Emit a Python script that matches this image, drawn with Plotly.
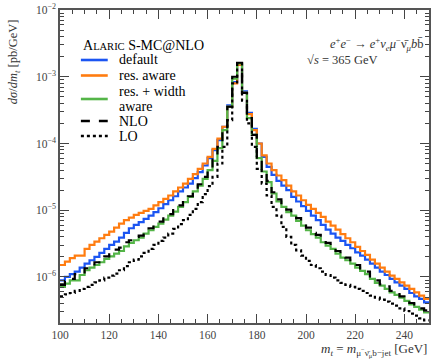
import plotly.graph_objects as go

# bin edges (GeV), 2 GeV bins from 100 to 250
bin_edges = list(range(100, 251, 2))

default = [8.91e-7, 1.00e-6, 1.10e-6, 1.20e-6, 1.38e-6, 1.58e-6, 1.78e-6, 2.00e-6, 2.29e-6, 2.63e-6,
           3.02e-6, 3.39e-6, 3.89e-6, 4.57e-6, 5.37e-6, 6.03e-6, 6.61e-6, 7.41e-6, 8.32e-6, 9.33e-6,
           1.07e-5, 1.23e-5, 1.41e-5, 1.62e-5, 1.91e-5, 2.19e-5, 2.51e-5, 3.02e-5, 3.72e-5, 4.68e-5,
           6.03e-5, 7.94e-5, 1.12e-4, 1.78e-4, 3.72e-4, 8.32e-4, 1.51e-3, 6.03e-4, 2.88e-4, 1.66e-4,
           1.00e-4, 6.31e-5, 4.47e-5, 3.39e-5, 2.75e-5, 2.34e-5, 2.00e-5, 1.58e-5, 1.35e-5, 1.15e-5,
           9.77e-6, 8.32e-6, 7.08e-6, 6.03e-6, 5.13e-6, 4.47e-6, 3.89e-6, 3.47e-6, 3.02e-6, 2.69e-6,
           2.34e-6, 2.09e-6, 1.82e-6, 1.58e-6, 1.38e-6, 1.20e-6, 1.07e-6, 9.33e-7, 8.32e-7, 7.41e-7,
           6.61e-7, 5.75e-7, 5.13e-7, 4.68e-7, 4.17e-7]

res_aware = [1.51e-6, 1.70e-6, 1.91e-6, 2.09e-6, 2.09e-6, 2.63e-6, 3.02e-6, 3.39e-6, 3.80e-6, 4.27e-6,
             4.79e-6, 5.50e-6, 6.31e-6, 7.08e-6, 7.76e-6, 8.51e-6, 9.12e-6, 9.77e-6, 1.05e-5, 1.18e-5,
             1.32e-5, 1.48e-5, 1.66e-5, 1.91e-5, 2.19e-5, 2.51e-5, 2.95e-5, 3.47e-5, 4.17e-5, 5.01e-5,
             6.31e-5, 8.32e-5, 1.18e-4, 1.78e-4, 3.55e-4, 7.94e-4, 1.51e-3, 5.75e-4, 2.75e-4, 1.58e-4,
             1.00e-4, 6.61e-5, 5.01e-5, 3.98e-5, 3.31e-5, 2.82e-5, 2.34e-5, 1.91e-5, 1.66e-5, 1.41e-5,
             1.20e-5, 1.05e-5, 9.12e-6, 7.94e-6, 6.76e-6, 5.89e-6, 5.13e-6, 4.37e-6, 3.80e-6, 3.31e-6,
             2.82e-6, 2.45e-6, 2.14e-6, 1.82e-6, 1.58e-6, 1.38e-6, 1.20e-6, 1.05e-6, 9.33e-7, 8.32e-7,
             7.41e-7, 6.61e-7, 5.89e-7, 5.25e-7, 4.68e-7]

res_width_aware = [7.08e-7, 7.94e-7, 8.91e-7, 8.91e-7, 1.07e-6, 1.26e-6, 1.38e-6, 1.51e-6, 1.66e-6, 1.86e-6,
                   2.04e-6, 2.24e-6, 2.45e-6, 2.88e-6, 3.24e-6, 3.55e-6, 3.89e-6, 4.47e-6, 5.01e-6, 5.62e-6,
                   6.31e-6, 7.24e-6, 8.32e-6, 9.55e-6, 1.12e-5, 1.32e-5, 1.58e-5, 1.91e-5, 2.34e-5, 2.95e-5,
                   3.98e-5, 5.50e-5, 8.51e-5, 1.58e-4, 3.55e-4, 9.33e-4, 1.58e-3, 5.75e-4, 2.40e-4, 1.35e-4,
                   6.03e-5, 3.80e-5, 2.63e-5, 1.78e-5, 1.35e-5, 1.12e-5, 9.33e-6, 8.32e-6, 6.92e-6, 5.89e-6,
                   5.01e-6, 4.37e-6, 3.89e-6, 3.31e-6, 2.95e-6, 2.63e-6, 2.24e-6, 1.95e-6, 1.78e-6, 1.58e-6,
                   1.38e-6, 1.23e-6, 1.10e-6, 9.33e-7, 8.13e-7, 7.41e-7, 6.61e-7, 5.89e-7, 5.37e-7, 4.90e-7,
                   4.37e-7, 3.89e-7, 3.55e-7, 3.24e-7, 2.95e-7]

nlo = [7.59e-7, 8.71e-7, 9.33e-7, 1.10e-6, 1.17e-6, 1.35e-6, 1.45e-6, 1.66e-6, 1.78e-6, 2.04e-6,
       2.19e-6, 2.57e-6, 2.75e-6, 3.31e-6, 3.55e-6, 3.98e-6, 4.17e-6, 4.90e-6, 5.37e-6, 6.17e-6,
       6.76e-6, 7.94e-6, 8.71e-6, 1.05e-5, 1.18e-5, 1.41e-5, 1.62e-5, 2.00e-5, 2.45e-5, 3.16e-5,
       4.17e-5, 5.75e-5, 8.91e-5, 1.58e-4, 3.55e-4, 1.00e-3, 1.62e-3, 5.75e-4, 2.40e-4, 1.35e-4,
       6.31e-5, 3.98e-5, 2.75e-5, 1.86e-5, 1.45e-5, 1.18e-5, 1.02e-5, 8.71e-6, 7.59e-6, 6.17e-6,
       5.50e-6, 4.57e-6, 4.27e-6, 3.47e-6, 3.24e-6, 2.75e-6, 2.45e-6, 2.04e-6, 1.95e-6, 1.66e-6,
       1.51e-6, 1.29e-6, 1.20e-6, 9.77e-7, 8.91e-7, 7.76e-7, 7.24e-7, 6.17e-7, 5.89e-7, 5.13e-7,
       4.79e-7, 4.07e-7, 3.89e-7, 3.39e-7, 3.16e-7]

lo = [5.13e-7, 5.50e-7, 5.75e-7, 6.17e-7, 6.61e-7, 7.08e-7, 7.59e-7, 8.32e-7, 8.91e-7, 9.77e-7,
      1.05e-6, 1.12e-6, 1.26e-6, 1.45e-6, 1.66e-6, 1.82e-6, 2.04e-6, 2.29e-6, 2.63e-6, 3.02e-6,
      3.47e-6, 3.89e-6, 4.47e-6, 5.25e-6, 6.17e-6, 7.08e-6, 8.51e-6, 1.05e-5, 1.32e-5, 1.74e-5,
      2.29e-5, 3.16e-5, 5.01e-5, 8.91e-5, 2.24e-4, 7.94e-4, 1.58e-3, 4.37e-4, 2.00e-4, 8.91e-5,
      4.17e-5, 2.51e-5, 1.66e-5, 1.12e-5, 8.32e-6, 5.62e-6, 3.98e-6, 3.02e-6, 2.51e-6, 2.09e-6,
      1.74e-6, 1.51e-6, 1.35e-6, 1.20e-6, 1.07e-6, 9.77e-7, 8.91e-7, 8.13e-7, 7.59e-7, 7.08e-7,
      6.61e-7, 6.17e-7, 5.75e-7, 5.25e-7, 4.90e-7, 4.57e-7, 4.27e-7, 3.98e-7, 3.72e-7, 3.39e-7,
      3.09e-7, 2.82e-7, 2.63e-7, 2.40e-7, 2.24e-7]

x_ticks = [100, 120, 140, 160, 180, 200, 220, 240]
y_ticks = [1e-6, 1e-5, 1e-4, 1e-3, 1e-2]
y_ticktext = ["10<sup>−6</sup>", "10<sup>−5</sup>", "10<sup>−4</sup>", "10<sup>−3</sup>", "10<sup>−2</sup>"]

legend_title = "A<span style='font-size:10.5px'>LARIC</span> S-MC@NLO"
FONT = "Liberation Serif"

series = [
    ("default", default, "#1b55f2", "solid"),
    ("res. aware", res_aware, "#ff7c10", "solid"),
    ("res. + width<br>aware", res_width_aware, "#54b548", "solid"),
    ("NLO", nlo, "#000000", "dash"),
    ("LO", lo, "#000000", "dot"),
]

fig = go.Figure()
for name, vals, col, dash in series:
    fig.add_trace(go.Scatter(
        x=bin_edges, y=vals + [vals[-1]], mode="lines", name=name,
        line=dict(color=col, width=2.2, dash=dash, shape="hv"),
        showlegend=False,
    ))

minor_y = [m * 10.0 ** e for e in range(-7, -2) for m in range(2, 10)]
minor_x = [v for v in range(100, 251, 5) if v % 20 != 0]

fig.update_layout(
    width=432, height=361,
    margin=dict(l=60, r=1, t=10, b=38),
    paper_bgcolor="white", plot_bgcolor="white",
    font=dict(family=FONT, size=12, color="#333"),
    showlegend=False,
    xaxis=dict(
        type="linear", range=[100, 250],
        tickmode="array", tickvals=x_ticks, ticktext=[str(v) for v in x_ticks],
        ticks="inside", ticklen=9, tickwidth=1, tickcolor="#444",
        showline=True, linecolor="#555", linewidth=1.5, mirror="ticks",
        showgrid=False, zeroline=False,
        tickfont=dict(family=FONT, size=11.5, color="#444"),
        minor=dict(tickmode="array", tickvals=minor_x, ticks="inside", ticklen=4, tickcolor="#444", showgrid=False),
    ),
    yaxis=dict(
        type="log", range=[-6.69, -2],
        tickmode="array", tickvals=y_ticks, ticktext=y_ticktext,
        ticks="inside", ticklen=9, tickwidth=1, tickcolor="#444",
        showline=True, linecolor="#555", linewidth=1.5, mirror="ticks",
        showgrid=False, zeroline=False,
        tickfont=dict(family=FONT, size=11.5, color="#444"),
        minor=dict(tickmode="array", tickvals=minor_y, ticks="inside", ticklen=4, tickcolor="#444", showgrid=False),
    ),
)

# manual legend (pixel positions converted to paper coords of the plot area)
def px_to_paper(px, py):
    return (px - 60) / 371.0, (323 - py) / 313.0

LEG_FONT = dict(family=FONT, size=14, color="#000")
tx, ty = px_to_paper(81, 45)
fig.add_annotation(text=legend_title, xref="paper", yref="paper", x=tx, y=ty,
                   xanchor="left", yanchor="middle", showarrow=False, font=LEG_FONT)

legend_rows = [
    (series[0], 60, [(60, "default")]),
    (series[1], 75.5, [(75.5, "res. aware")]),
    (series[2], 99, [(91, "res. + width"), (106, "aware")]),
    (series[3], 121, [(121, "NLO")]),
    (series[4], 136, [(136, "LO")]),
]
for (name, vals, col, dash), line_y, texts in legend_rows:
    x0, y0 = px_to_paper(81, line_y)
    x1, _ = px_to_paper(108, line_y)
    fig.add_shape(type="line", xref="paper", yref="paper", x0=x0, x1=x1, y0=y0, y1=y0,
                  line=dict(color=col, width=2.6, dash=dash))
    for ty_px, t in texts:
        lx, ly = px_to_paper(117, ty_px)
        fig.add_annotation(text=t, xref="paper", yref="paper", x=lx, y=ly,
                           xanchor="left", yanchor="middle", showarrow=False, font=LEG_FONT)

ax, ay = px_to_paper(14, 62)
fig.add_annotation(
    text="<i>dσ</i>/<i>dm<sub>t</sub></i> [pb/GeV]",
    xref="paper", yref="paper", x=ax, y=ay, xanchor="center", yanchor="middle",
    textangle=-90, showarrow=False, font=dict(family=FONT, size=12.5, color="#333"),
)
bx, by = px_to_paper(431, 350)
fig.add_annotation(
    text="<i>m<sub>t</sub></i> = <i>m</i><sub>μ<sup>−</sup>ν̄<sub>μ</sub>b−jet</sub> [GeV]",
    xref="paper", yref="paper", x=bx, y=by, xanchor="right", yanchor="middle",
    showarrow=False, font=dict(family=FONT, size=13, color="#333"),
)
cx, cy = px_to_paper(427, 33)
fig.add_annotation(
    text="<i>e</i><sup>+</sup><i>e</i><sup>−</sup> → <i>e</i><sup>+</sup><i>ν</i><sub><i>e</i></sub><i>μ</i><sup>−</sup>ν̄<sub><i>μ</i></sub><i>b</i>b̄",
    xref="paper", yref="paper", x=cx, y=cy, xanchor="right", yanchor="top",
    showarrow=False, font=dict(family=FONT, size=12.5, color="#333"),
)
dx, dy = px_to_paper(306, 51)
fig.add_annotation(
    text="√<i>s</i> = 365 GeV",
    xref="paper", yref="paper", x=dx, y=dy, xanchor="left", yanchor="top",
    showarrow=False, font=dict(family=FONT, size=12.5, color="#333"),
)

fig.write_html("out.html")
